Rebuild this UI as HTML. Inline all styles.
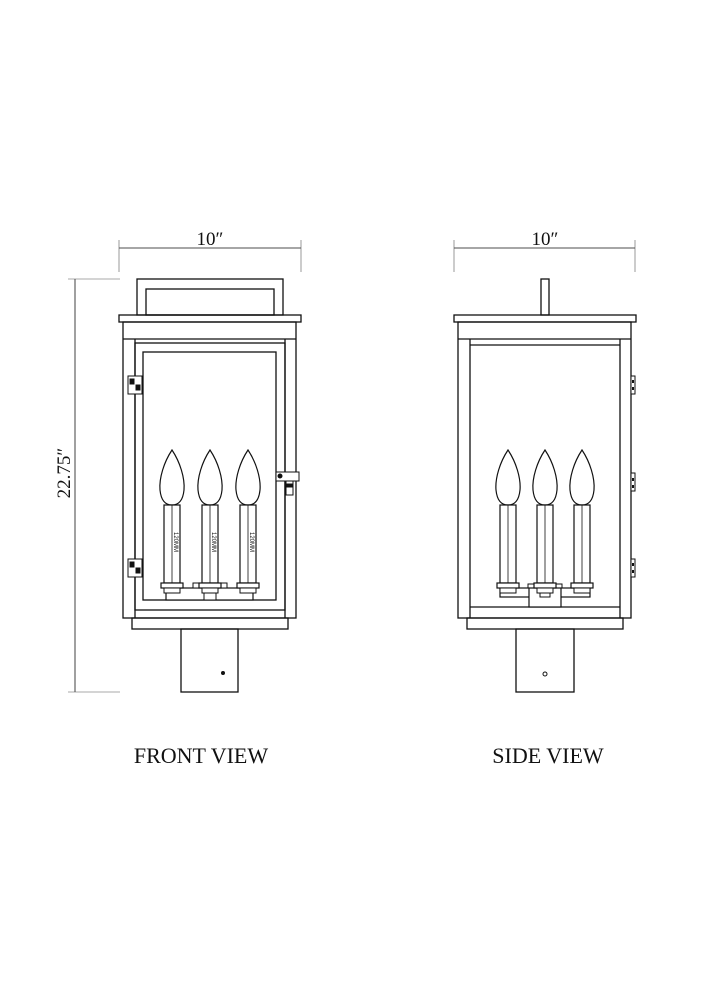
<!DOCTYPE html>
<html><head><meta charset="utf-8"><style>
html,body{margin:0;padding:0;background:#fff;}
svg{display:block}
text{font-family:"Liberation Serif",serif;fill:#111}
</style></head><body>
<svg width="707" height="1000" viewBox="0 0 707 1000" xmlns="http://www.w3.org/2000/svg">
<defs>
<g id="candle">
  <path d="M0,450 C-8,462 -13,478 -12,490 C-11,500 -7,505 0,505 C7,505 11,500 12,490 C13,478 8,462 0,450 Z" fill="#fff" stroke="#111" stroke-width="1.2"/>
  <rect x="-8" y="505" width="16" height="78" fill="#fff" stroke="#111" stroke-width="1.2"/>
  <line x1="0" y1="505" x2="0" y2="583" stroke="#111" stroke-width="0.8"/>
  <rect x="-11" y="583" width="22" height="5" fill="#fff" stroke="#111" stroke-width="1.2"/>
  <rect x="-8" y="588" width="16" height="5" fill="#fff" stroke="#111" stroke-width="1"/>
</g>
</defs>
<g fill="none" stroke="#111" stroke-width="1.3">
<line x1="119" y1="248" x2="301" y2="248" stroke-width="0.8"/>
<line x1="119" y1="240" x2="119" y2="272" stroke-width="0.6" stroke="#555"/>
<line x1="301" y1="240" x2="301" y2="272" stroke-width="0.6" stroke="#555"/>
<line x1="75" y1="279" x2="75" y2="692" stroke-width="0.8"/>
<line x1="68" y1="279" x2="120" y2="279" stroke-width="0.6" stroke="#555"/>
<line x1="68" y1="692" x2="120" y2="692" stroke-width="0.6" stroke="#555"/>
<rect x="137" y="279" width="146" height="36"/>
<rect x="146" y="289" width="128" height="26"/>
<rect x="119" y="315" width="182" height="7"/>
<rect x="123" y="322" width="173" height="296"/>
<line x1="123" y1="339" x2="296" y2="339"/>
<line x1="135" y1="339" x2="135" y2="618"/>
<line x1="285" y1="339" x2="285" y2="618"/>
<rect x="135" y="343" width="150" height="267"/>
<rect x="143" y="352" width="133" height="248"/>
<rect x="132" y="618" width="156" height="11"/>
<rect x="181" y="629" width="57" height="63"/>
</g>
<circle cx="223" cy="673" r="2" fill="#111"/>
<g stroke="#111" stroke-width="1">
<rect x="128" y="376" width="14" height="18" fill="#fff"/>
<rect x="130" y="379" width="4" height="5" fill="#111"/><rect x="136" y="385" width="4" height="5" fill="#111"/>
<rect x="128" y="559" width="14" height="18" fill="#fff"/>
<rect x="130" y="562" width="4" height="5" fill="#111"/><rect x="136" y="568" width="4" height="5" fill="#111"/>
<rect x="276" y="472" width="23" height="9" fill="#fff"/>
<circle cx="280" cy="476" r="2" fill="#111"/>
<rect x="286" y="481" width="7" height="14" fill="#fff"/>
<rect x="287" y="484" width="5" height="3" fill="#111"/>
</g>
<rect x="166" y="588" width="87" height="12" fill="#fff" stroke="#111" stroke-width="1.2"/>
<rect x="193" y="583" width="34" height="5" fill="#fff" stroke="#111" stroke-width="1"/>
<rect x="204" y="588" width="12" height="12" fill="#fff" stroke="#111" stroke-width="1"/>
<use href="#candle" x="172"/>
<use href="#candle" x="210"/>
<use href="#candle" x="248"/>
<g font-size="6">
<text transform="translate(174,542) rotate(90)" text-anchor="middle" style="font-family:'Liberation Sans',sans-serif">120MM</text>
<text transform="translate(212,542) rotate(90)" text-anchor="middle" style="font-family:'Liberation Sans',sans-serif">120MM</text>
<text transform="translate(250,542) rotate(90)" text-anchor="middle" style="font-family:'Liberation Sans',sans-serif">120MM</text>
</g>
<g fill="none" stroke="#111" stroke-width="1.3">
<line x1="454" y1="248" x2="635" y2="248" stroke-width="0.8"/>
<line x1="454" y1="240" x2="454" y2="272" stroke-width="0.6" stroke="#555"/>
<line x1="635" y1="240" x2="635" y2="272" stroke-width="0.6" stroke="#555"/>
<rect x="541" y="279" width="8" height="36"/>
<rect x="454" y="315" width="182" height="7"/>
<rect x="458" y="322" width="173" height="296"/>
<line x1="458" y1="339" x2="631" y2="339"/>
<line x1="470" y1="339" x2="470" y2="618"/>
<line x1="620" y1="339" x2="620" y2="618"/>
<line x1="470" y1="345" x2="620" y2="345"/>
<line x1="470" y1="607" x2="620" y2="607"/>
<rect x="467" y="618" width="156" height="11"/>
<rect x="516" y="629" width="58" height="63"/>
</g>
<circle cx="545" cy="674" r="2" fill="none" stroke="#111" stroke-width="1"/>
<g fill="#fff" stroke="#111" stroke-width="1">
<rect x="631" y="376" width="4" height="18"/>
<rect x="631" y="473" width="4" height="18"/>
<rect x="631" y="559" width="4" height="18"/>
</g>
<g fill="#111">
<rect x="632" y="380" width="2" height="3"/><rect x="632" y="387" width="2" height="3"/>
<rect x="632" y="478" width="2" height="3"/><rect x="632" y="485" width="2" height="3"/>
<rect x="632" y="563" width="2" height="3"/><rect x="632" y="570" width="2" height="3"/>
</g>
<rect x="500" y="588" width="90" height="9" fill="#fff" stroke="#111" stroke-width="1.2"/>
<rect x="528" y="584" width="34" height="4" fill="#fff" stroke="#111" stroke-width="1"/>
<rect x="529" y="588" width="32" height="19" fill="#fff" stroke="#111" stroke-width="1.2"/>
<rect x="540" y="588" width="10" height="9" fill="#fff" stroke="#111" stroke-width="1"/>
<use href="#candle" x="508"/>
<use href="#candle" x="545"/>
<use href="#candle" x="582"/>
<text x="210" y="245" font-size="19" text-anchor="middle">10″</text>
<text x="545" y="245" font-size="19" text-anchor="middle">10″</text>
<text transform="translate(70,473) rotate(-90)" font-size="19" text-anchor="middle">22.75″</text>
<text x="201" y="763" font-size="22" text-anchor="middle">FRONT VIEW</text>
<text x="548" y="763" font-size="22" text-anchor="middle">SIDE VIEW</text>
</svg>
</body></html>
